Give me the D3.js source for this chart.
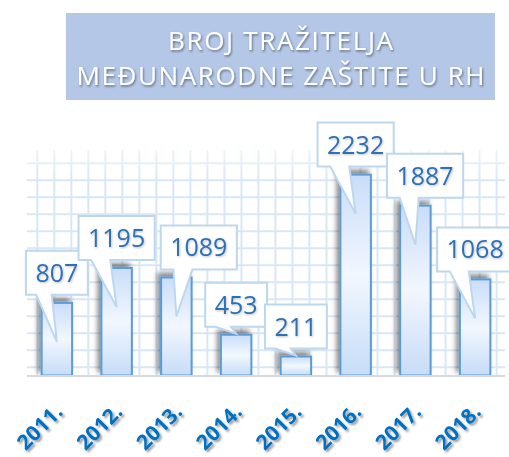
<!DOCTYPE html>
<html><head><meta charset="utf-8">
<script src="https://cdn.jsdelivr.net/npm/d3@7"></script>
<style>
html,body{margin:0;padding:0;background:#fff;}
svg{display:block;}
</style></head>
<body>
<script>
const years = ["2011.","2012.","2013.","2014.","2015.","2016.","2017.","2018."];
const applicants = [807,1195,1089,453,211,2232,1887,1068];
const titleLines = ["BROJ TRAŽITELJA","MEĐUNARODNE ZAŠTITE U RH"];

const W = 509, H = 457;
const svg = d3.select("body").append("svg").attr("width", W).attr("height", H);
const defs = svg.append("defs");

const bg = defs.append("linearGradient").attr("id","barGrad").attr("x1",0).attr("y1",0).attr("x2",0).attr("y2",1);
bg.append("stop").attr("offset","0%").attr("stop-color","#c9ddf9");
bg.append("stop").attr("offset","50%").attr("stop-color","#f2f7fe");
bg.append("stop").attr("offset","100%").attr("stop-color","#c6dcf8");

const vg = defs.append("linearGradient").attr("id","vGrid").attr("gradientUnits","userSpaceOnUse")
  .attr("x1",0).attr("y1",150).attr("x2",0).attr("y2",180);
vg.append("stop").attr("offset","0%").attr("stop-color","#eef4fb");
vg.append("stop").attr("offset","100%").attr("stop-color","#d9e7f5");

function shadowFilter(id, dx, dy, sd, op){
  const f = defs.append("filter").attr("id",id).attr("filterUnits","userSpaceOnUse")
    .attr("x",0).attr("y",0).attr("width",W).attr("height",H);
  f.append("feDropShadow").attr("dx",dx).attr("dy",dy).attr("stdDeviation",sd)
    .attr("flood-color","#000").attr("flood-opacity",op);
}
shadowFilter("barShadow",-3,-4,2.5,0.45);
shadowFilter("txtShadow",1,1.5,1.2,0.45);
shadowFilter("axShadow",2,2,1.2,0.4);
shadowFilter("lblShadow",0.8,1,0.8,0.25);

// title
svg.append("rect").attr("x",66).attr("y",13).attr("width",429).attr("height",87).attr("fill","#b4c7e7");
const titleWidths = [225, 408];
svg.append("g").attr("filter","url(#txtShadow)")
  .selectAll("text").data(titleLines).join("text")
  .attr("x",280.5).attr("y",(d,i)=>49.5+i*35.5)
  .attr("text-anchor","middle")
  .attr("font-family","'Open Sans', sans-serif").attr("font-size",26)
  .attr("textLength",(d,i)=>titleWidths[i]).attr("lengthAdjust","spacing")
  .attr("fill","#fff").text(d=>d);

// scales
const x = d3.scaleBand().domain(years).range([27,505]).paddingInner(0.49).paddingOuter(0.245);
const y = d3.scaleLinear().domain([0,2500]).range([375.5,150.5]);

// grid background
const grid = svg.append("g");
const vx = d3.range(28).map(k=>37.3+17.01*k);
grid.selectAll("line.v").data(vx).join("line").attr("class","v")
  .attr("x1",d=>d).attr("x2",d=>d).attr("y1",150).attr("y2",375)
  .attr("stroke","url(#vGrid)").attr("stroke-width",2);
const hy = d3.range(13).map(k=>367.3-17*k);
grid.selectAll("line.h").data(hy).join("line").attr("class","h")
  .attr("x1",27).attr("x2",505).attr("y1",d=>d).attr("y2",d=>d)
  .attr("stroke",d=>d<170?"#e6eff9":"#d9e7f5").attr("stroke-width",2);

// bars
svg.append("g").selectAll("rect").data(applicants).join("rect")
  .attr("x",(d,i)=>x(years[i]))
  .attr("y",d=>y(d))
  .attr("width",x.bandwidth())
  .attr("height",d=>y(0)-y(d))
  .attr("fill","url(#barGrad)")
  .attr("stroke","#5b9bd5").attr("stroke-width",2)
  .attr("filter","url(#barShadow)");

// baseline
svg.append("line").attr("x1",27).attr("x2",505).attr("y1",376).attr("y2",376)
  .attr("stroke","#d9d9d9").attr("stroke-width",2);

// callout labels
const labelDx = {"2013.":22.4, "2017.":9.7};
const calloutG = svg.append("g");
applicants.forEach((v,i)=>{
  const cx = x(years[i]) + x.bandwidth()/2;
  const g = calloutG.append("g");
  const path = g.append("path");
  const t = g.append("text").text(v)
    .attr("font-family","'Open Sans', sans-serif").attr("font-size",25)
    .attr("fill","#2e6fb4").attr("text-anchor","middle")
    .attr("filter","url(#lblShadow)");
  const tw = t.node().getComputedTextLength();
  const bw = tw + 19, bh = 44;
  const bcx = cx + (labelDx[years[i]]||0);
  const L = bcx - bw/2, R = bcx + bw/2, B = y(v) - 8, T = B - bh;
  let tipY = y(v) + 39;
  if (tipY > y(0) - 2) tipY = y(v) - 1;
  const tipX = cx;
  const right = (tipX - bcx) > 0;
  const b1 = L + bw*(right?7:2)/12, b2 = L + bw*(right?10:5)/12;
  path.attr("d",`M${L},${T}H${R}V${B}H${b2}L${tipX},${tipY}L${b1},${B}H${L}Z`)
    .attr("fill","#fff").attr("stroke","#bdd7ee").attr("stroke-width",2).attr("stroke-linejoin","miter");
  t.attr("x",bcx).attr("y",(T+B)/2 + 9);
});

// x axis labels
svg.append("g").attr("filter","url(#axShadow)")
  .selectAll("text").data(years).join("text")
  .attr("transform",d=>`translate(${x(d)+x.bandwidth()/2+7},413) rotate(-45)`)
  .attr("text-anchor","end")
  .attr("font-family","'Open Sans', sans-serif").attr("font-weight","bold").attr("font-size",21)
  .attr("fill","#0070c0").text(d=>d);
</script>
</body></html>
